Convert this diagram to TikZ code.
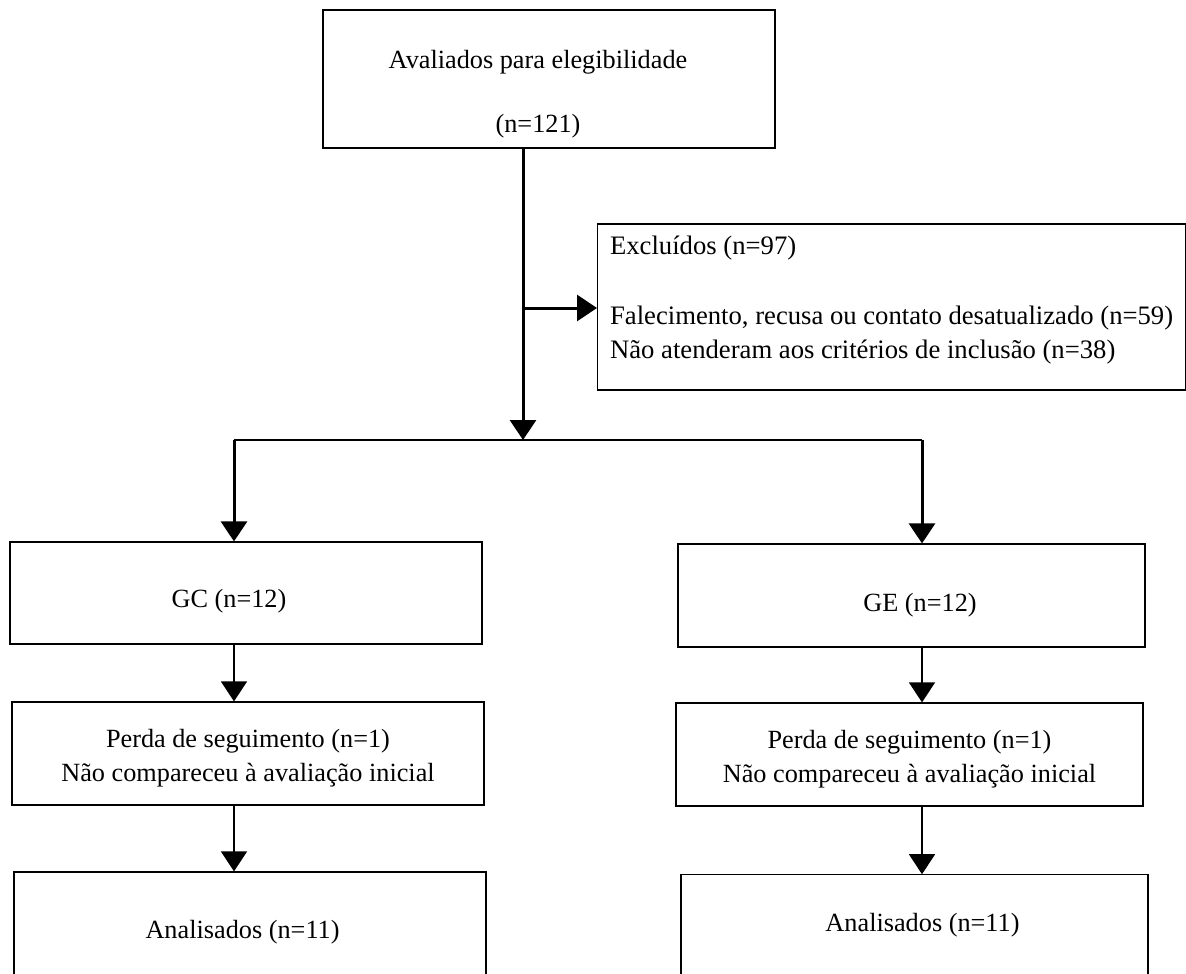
\documentclass[tikz,border=0pt]{standalone}
\usepackage{fontspec}
\setmainfont{Liberation Serif}
\usetikzlibrary{arrows.meta}

\begin{document}
\begin{tikzpicture}[x=0.75pt, y=-0.75pt,
        box/.style={draw, line width=0.9pt, inner sep=0pt, align=center,
            font=\fontsize{19.7}{25.5}\selectfont},
        arrowthick/.style={line width=2.25pt, -{Triangle[length=15pt, width=19.5pt]}},
        arrowthin/.style={line width=1pt, -{Triangle[length=15pt, width=19.5pt]}}]
                \useasboundingbox (0,0) rectangle (1186,974);
                \clip (0,0) rectangle (1186,974);

                \node[box, minimum width=339pt, minimum height=103.5pt] (avaliados) at (549,79)
                    {\rule{0pt}{36pt}Avaliados para elegibilidade\kern16.5pt\\[22.5pt](n=121)\kern16.5pt};
                \node[box, anchor=west, align=left, minimum width=441pt, minimum height=124.5pt,
                    font=\fontsize{20}{25.5}\selectfont] (excluidos) at (597,307)
                    {Exclu\'idos (n=97)\\[27pt]
                     Falecimento, recusa ou contato desatualizado (n=59)\\
                     N\~ao atenderam aos crit\'erios de inclus\~ao (n=38)\rule[-15pt]{0pt}{15pt}};

                \node[box, minimum width=354pt, minimum height=76.5pt, text height=25.3pt, text depth=4.3pt]
                    (gc) at (246,593) {GC (n=12)\kern25.5pt};
                \node[box, minimum width=350.25pt, minimum height=77.25pt, text height=28.7pt, text depth=4.3pt]
                    (ge) at (911.5,595.5) {\kern12.8pt GE (n=12)};

                \node[box, minimum width=354pt, minimum height=77.25pt] (perdagc) at (248,753.5)
                    {\rule{0pt}{20pt}Perda de seguimento (n=1)\\N\~ao compareceu \`a avalia\c{c}\~ao inicial};
                \node[box, minimum width=350.25pt, minimum height=77.25pt] (perdage) at (909.5,754.5)
                    {\rule{0pt}{20pt}Perda de seguimento (n=1)\\N\~ao compareceu \`a avalia\c{c}\~ao inicial};

                \node[box, minimum width=354pt, minimum height=90pt] (analisadosgc) at (250,932)
                    {Analisados (n=11)\kern11.2pt};
                \node[box, minimum width=350.25pt, minimum height=76pt] (analisadosge) at (914.5,925.5)
                    {\kern12pt Analisados (n=11)};

                \coordinate (split) at (523,440);
                \coordinate (saida) at (523,308);
                \coordinate (ladoesq) at (234,440);
                \coordinate (ladodir) at (922,440);

                \draw[arrowthick] (avaliados.south -| split) -- (split);
                \draw[arrowthick] (saida) -- (saida -| excluidos.west);
                \draw[line width=1pt] (ladoesq) -- (ladodir);
                \draw[arrowthick] (ladoesq) -- (ladoesq |- gc.north);
                \draw[arrowthick] (ladodir) -- (ladodir |- ge.north);

                \draw[arrowthin] (gc.south -| ladoesq) -- (perdagc.north -| ladoesq);
                \draw[arrowthin] (perdagc.south -| ladoesq) -- (analisadosgc.north -| ladoesq);
                \draw[arrowthin] (ge.south -| ladodir) -- (perdage.north -| ladodir);
                \draw[arrowthin] (perdage.south -| ladodir) -- (analisadosge.north -| ladodir);
            \end{tikzpicture}
\end{document}
